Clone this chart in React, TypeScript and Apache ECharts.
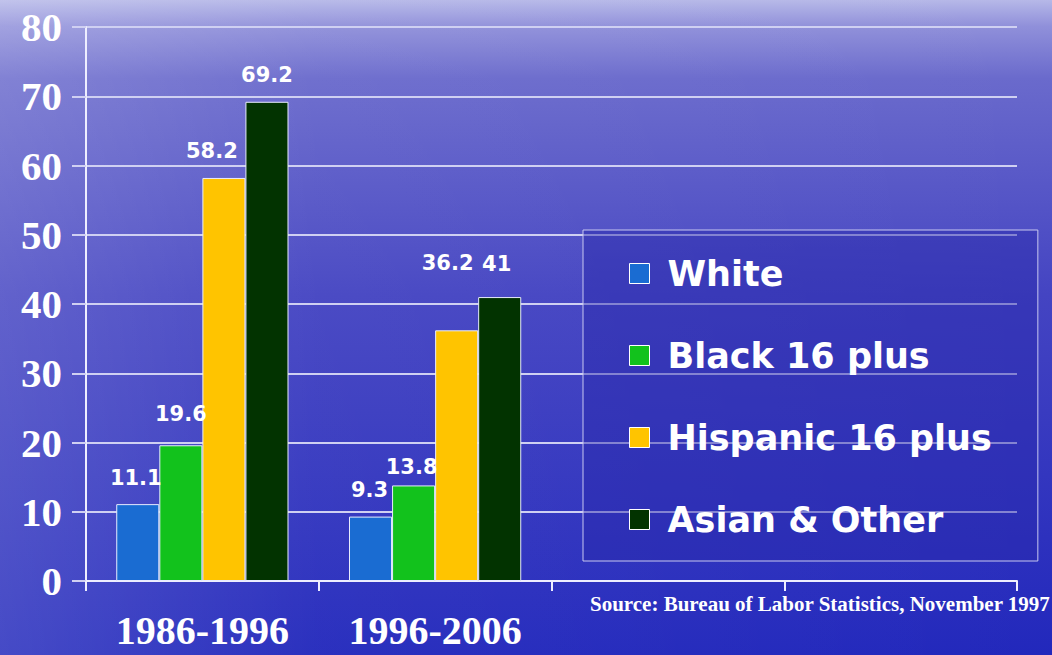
import React, { useEffect, useRef } from "react";
import * as echarts from "echarts";

const categories = ["1986-1996", "1996-2006", "", ""];
const seriesNames = ["White", "Black 16 plus", "Hispanic 16 plus", "Asian & Other"];
const whiteValues = [11.1, 9.3];
const blackValues = [19.6, 13.8];
const hispanicValues = [58.2, 36.2];
const asianValues = [69.2, 41];
const seriesColors = ["#1a6cd2", "#12c21c", "#ffc400", "#023300"];
const yMin = 0;
const yMax = 80;
const yInterval = 10;
const sourceText = "Source: Bureau of Labor Statistics, November 1997";

// label style tweaks (offset [x, y] in px) per series, per category
const labelOffsets = [
  [[-2, 0], [-1, 0]],
  [[0, -5], [-2, 8]],
  [[-12, 0], [-9, -41]],
  [[0, 0], [-3, -7]],
];

export default function App() {
  const ref = useRef<HTMLDivElement>(null);
  useEffect(() => {
    if (!ref.current) return;
    const chart = echarts.init(ref.current, null, { renderer: "svg" });
    const values = [whiteValues, blackValues, hispanicValues, asianValues];
    const series = seriesNames.map((name, i) => ({
      name,
      type: "bar",
      data: values[i].map((v, j) => ({ value: v, label: { offset: labelOffsets[i][j] } })),
      barGap: "0%",
      barCategoryGap: "26%",
      itemStyle: { color: seriesColors[i], borderColor: "#e8ecff", borderWidth: 1 },
      label: {
        show: true,
        position: "top",
        distance: 16,
        color: "#ffffff",
        fontFamily: "DejaVu Sans, sans-serif",
        fontWeight: "bold",
        fontSize: 21,
      },
    }));
    chart.setOption({
      animation: false,
      backgroundColor: {
        type: "linear",
        x: 0,
        y: 0,
        x2: 0,
        y2: 1,
        colorStops: [
          { offset: 0, color: "#b6b8e8" },
          { offset: 0.04, color: "#9090da" },
          { offset: 0.12, color: "#6a6acc" },
          { offset: 0.45, color: "#4444c2" },
          { offset: 1, color: "#2228bc" },
        ],
      },
      grid: { left: 86, right: 35, top: 27, bottom: 74 },
      legend: {
        data: seriesNames,
        orient: "vertical",
        left: 583,
        top: 230,
        padding: [26, 46, 24, 46],
        itemGap: 47,
        itemWidth: 20,
        itemHeight: 20,
        icon: "rect",
        backgroundColor: "rgba(40,40,170,0.45)",
        borderColor: "#c8c8f0",
        borderWidth: 1,
        itemStyle: { borderColor: "#ffffff", borderWidth: 1 },
        textStyle: {
          color: "#ffffff",
          fontFamily: "DejaVu Sans, sans-serif",
          fontWeight: "bold",
          fontSize: 35,
          lineHeight: 35,
          padding: [0, 0, 0, 13],
        },
      },
      xAxis: {
        type: "category",
        data: categories,
        axisLine: { show: true, lineStyle: { color: "#eeeeff", width: 2 } },
        axisTick: { show: true, interval: 0, length: 10, alignWithLabel: false, lineStyle: { color: "#eeeeff", width: 2 } },
        axisLabel: {
          interval: 0,
          color: "#ffffff",
          fontFamily: "Liberation Serif, Times New Roman, serif",
          fontWeight: "bold",
          fontSize: 40,
          lineHeight: 40,
          margin: 29,
        },
      },
      yAxis: {
        type: "value",
        min: yMin,
        max: yMax,
        interval: yInterval,
        axisLine: { show: true, lineStyle: { color: "#eeeeff", width: 2 } },
        axisTick: { show: true, length: 14, lineStyle: { color: "#d0d0f2", width: 2 } },
        splitLine: { show: true, lineStyle: { color: "#cfd0f2", width: 2 } },
        axisLabel: {
          color: "#ffffff",
          fontFamily: "Liberation Serif, Times New Roman, serif",
          fontWeight: "bold",
          fontSize: 41,
          margin: 24,
          padding: [0, 0, 14, 0],
        },
      },
      graphic: [
        {
          type: "rect",
          z: -10,
          silent: true,
          shape: { x: 0, y: 0, width: 1052, height: 655 },
          style: {
            fill: {
              type: "linear",
              x: 0,
              y: 0,
              x2: 1,
              y2: 0,
              colorStops: [
                { offset: 0, color: "rgba(255,255,255,0.16)" },
                { offset: 0.3, color: "rgba(255,255,255,0.04)" },
                { offset: 1, color: "rgba(255,255,255,0)" },
              ],
            },
          },
        },
        {
          type: "text",
          left: 590,
          top: 593,
          style: {
            text: sourceText,
            fill: "#ffffff",
            font: "bold 21px 'Liberation Serif', 'Times New Roman', serif",
          },
        },
      ],
      series,
    });
    return () => chart.dispose();
  }, []);
  return (
    <div
      ref={ref}
      style={{ position: "fixed", left: 0, top: 0, width: 1052, height: 655 }}
    />
  );
}
